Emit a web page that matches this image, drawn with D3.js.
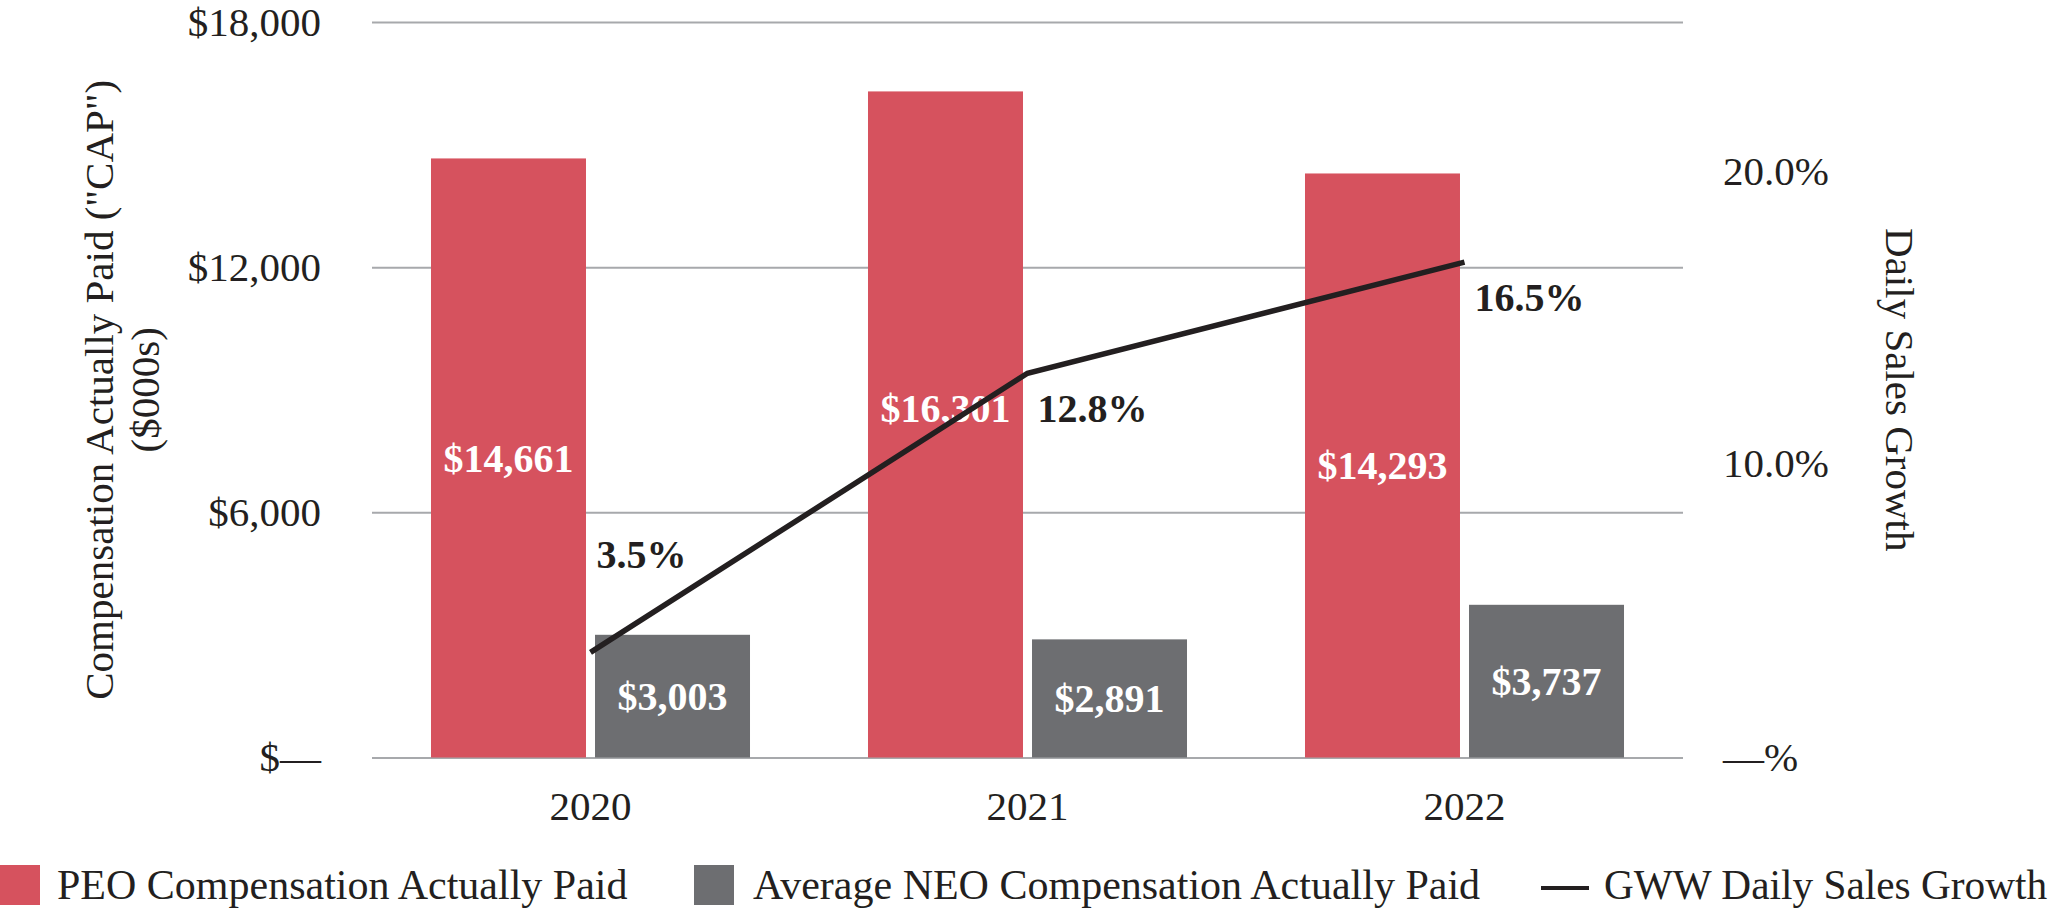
<!DOCTYPE html>
<html lang="en">
<head>
  <meta charset="UTF-8">
  <title>Compensation Actually Paid vs Daily Sales Growth</title>
  <script src="https://d3js.org/d3.v7.min.js"></script>
  <style>
    body, html {
      margin: 0;
      padding: 0;
      background: #fff;
    }
    svg text {
      font-family: "Liberation Serif", "Times New Roman", serif;
      fill: #231f20;
    }
    .grid line { stroke: #a7a9ac; stroke-width: 2px; }
    .tick-label { font-size: 41px; }
    .bar-label { font-size: 40px; font-weight: bold; fill: #fff; }
    .line-label { font-size: 40px; font-weight: bold; }
    .legend-text { font-size: 42px; }
    .legend-text.last { font-size: 41.3px; }
  </style>
</head>
<body>
  <svg id="chart" width="2055" height="909"></svg>

  <script>
    // data
    const years = ["2020", "2021", "2022"];
    const peoCap = [14661, 16301, 14293];     // $000s
    const neoCap = [3003, 2891, 3737];        // $000s
    const salesGrowth = [3.5, 12.8, 16.5];    // %
    const leftTicks = [0, 6000, 12000, 18000];
    const rightTicks = [0, 10, 20];

    const colors = { peo: "#d6525e", neo: "#6d6e71", line: "#231f20" };

    // small hand nudges for labels (pixels), same as the source layout
    const peoLabelShift = { "2021": -16 };
    const growthLabelShift = [{ dx: 6, dy: -98 }, { dx: 10, dy: 35 }, { dx: 10, dy: 35 }];
    const rightTickShift = { 0: 0, 10: 6, 20: 14 };

    const svg = d3.select("#chart");
    const plotLeft = 372, plotRight = 1683, plotTop = 22, plotBottom = 757.5;

    const x0 = d3.scaleBand().domain(years).range([plotLeft, plotRight])
      .paddingInner(0.27).paddingOuter(0.135);
    const x1 = d3.scaleBand().domain(["peo", "neo"]).range([0, x0.bandwidth()])
      .paddingInner(0.055);
    const y = d3.scaleLinear().domain([0, 18000]).range([plotBottom, plotTop]);
    const y2 = d3.scaleLinear().domain([0, 24.5]).range([plotBottom, plotTop]);

    // left axis + gridlines
    const gLeft = svg.append("g")
      .attr("class", "grid")
      .attr("transform", `translate(${plotLeft},0)`)
      .call(d3.axisLeft(y)
        .tickValues(leftTicks)
        .tickSize(-(plotRight - plotLeft))
        .tickPadding(51)
        .tickFormat(d => d === 0 ? "$\u2014" : "$" + d3.format(",")(d)));
    gLeft.select(".domain").remove();
    gLeft.attr("font-size", null).attr("font-family", null);
    gLeft.selectAll("text").attr("class", "tick-label").attr("fill", null);

    // right axis
    const gRight = svg.append("g")
      .attr("transform", `translate(${plotRight},0)`)
      .call(d3.axisRight(y2)
        .tickValues(rightTicks)
        .tickSize(0)
        .tickPadding(40)
        .tickFormat(d => d === 0 ? "\u2014%" : d.toFixed(1) + "%"));
    gRight.select(".domain").remove();
    gRight.attr("font-size", null).attr("font-family", null);
    gRight.selectAll("text")
      .attr("class", "tick-label")
      .attr("fill", null)
      .attr("y", d => rightTickShift[d] || 0);

    // x axis labels
    const gX = svg.append("g")
      .attr("transform", `translate(0,${plotBottom})`)
      .call(d3.axisBottom(x0).tickSize(0).tickPadding(33));
    gX.select(".domain").remove();
    gX.attr("font-size", null).attr("font-family", null);
    gX.selectAll("text").attr("class", "tick-label").attr("fill", null);

    // axis titles
    const leftTitle = svg.append("text")
      .attr("class", "tick-label")
      .attr("text-anchor", "middle")
      .attr("transform", `translate(113,${(plotTop + plotBottom) / 2}) rotate(-90)`);
    leftTitle.append("tspan").attr("x", 0).attr("y", 0).text('Compensation Actually Paid ("CAP")');
    leftTitle.append("tspan").attr("x", 0).attr("dy", 46).text("($000s)");

    svg.append("text")
      .attr("class", "tick-label")
      .attr("text-anchor", "middle")
      .attr("transform", `translate(1886,${(plotTop + plotBottom) / 2}) rotate(90)`)
      .text("Daily Sales Growth");

    // bars
    const rows = years.map((yr, i) => ({ year: yr, peo: peoCap[i], neo: neoCap[i], growth: salesGrowth[i] }));

    const groups = svg.append("g").selectAll("g")
      .data(rows)
      .enter().append("g")
      .attr("transform", d => `translate(${x0(d.year)},0)`);

    groups.selectAll("rect")
      .data(d => ["peo", "neo"].map(k => ({ key: k, value: d[k], year: d.year })))
      .enter().append("rect")
      .attr("x", d => x1(d.key))
      .attr("y", d => y(d.value))
      .attr("width", x1.bandwidth())
      .attr("height", d => y(0) - y(d.value))
      .attr("fill", d => colors[d.key]);

    groups.selectAll(".bar-label")
      .data(d => ["peo", "neo"].map(k => ({ key: k, value: d[k], year: d.year })))
      .enter().append("text")
      .attr("class", "bar-label")
      .attr("text-anchor", "middle")
      .attr("x", d => x1(d.key) + x1.bandwidth() / 2)
      .attr("y", d => (y(d.value) + y(0)) / 2 + (d.key === "peo" ? (peoLabelShift[d.year] || 0) : 0))
      .attr("dy", "0.35em")
      .text(d => "$" + d3.format(",")(d.value));

    // sales growth line
    const cx = d => x0(d.year) + x0.bandwidth() / 2;
    svg.append("path")
      .datum(rows)
      .attr("fill", "none")
      .attr("stroke", colors.line)
      .attr("stroke-width", 5.5)
      .attr("d", d3.line().x(cx).y(d => y2(d.growth)));

    svg.append("g").selectAll("text")
      .data(rows)
      .enter().append("text")
      .attr("class", "line-label")
      .attr("x", (d, i) => cx(d) + growthLabelShift[i].dx)
      .attr("y", (d, i) => y2(d.growth) + growthLabelShift[i].dy)
      .attr("dy", "0.35em")
      .text(d => d.growth.toFixed(1) + "%");

    // legend
    const legend = svg.append("g");
    const legendY = 885;
    legend.append("rect").attr("x", 0).attr("y", legendY - 20).attr("width", 40).attr("height", 40).attr("fill", colors.peo);
    legend.append("text").attr("class", "legend-text").attr("x", 57).attr("y", legendY).attr("dy", "0.33em")
      .text("PEO Compensation Actually Paid");
    legend.append("rect").attr("x", 694).attr("y", legendY - 20).attr("width", 40).attr("height", 40).attr("fill", colors.neo);
    legend.append("text").attr("class", "legend-text").attr("x", 753).attr("y", legendY).attr("dy", "0.33em")
      .text("Average NEO Compensation Actually Paid");
    legend.append("line").attr("x1", 1541).attr("x2", 1589).attr("y1", legendY + 3).attr("y2", legendY + 3)
      .attr("stroke", colors.line).attr("stroke-width", 4);
    legend.append("text").attr("class", "legend-text last").attr("x", 1604).attr("y", legendY).attr("dy", "0.33em")
      .text("GWW Daily Sales Growth");
  </script>
</body>
</html>
